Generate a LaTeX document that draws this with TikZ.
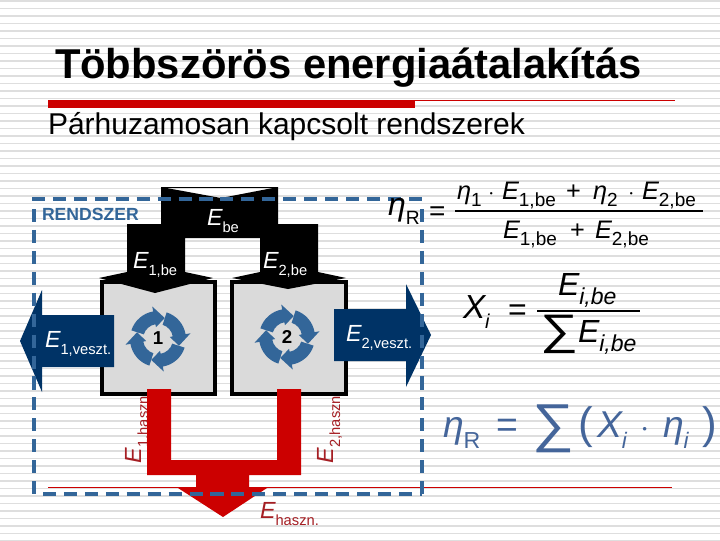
\documentclass[tikz,border=0pt]{standalone}
\usepackage{fontspec}
\usepackage{graphicx}
\setmainfont{Liberation Sans}
\usetikzlibrary{positioning}
\definecolor{stripegray}{RGB}{222,222,222}
\definecolor{boxgray}{RGB}{218,218,218}
\definecolor{sysblue}{RGB}{51,102,153}
\definecolor{lossblue}{RGB}{0,51,102}
\definecolor{usefulred}{RGB}{204,0,0}
\definecolor{labelred}{RGB}{165,30,35}
\definecolor{eqblue}{RGB}{68,101,154}
\newcommand{\symsub}[3][0.63]{{\itshape #2}\raisebox{-0.3em}{\scalebox{#1}{#3}}}
\newcommand{\fsize}[1]{\fontsize{#1}{#1}\selectfont}
\tikzset{
  plainlabel/.style={anchor=base west, inner sep=0pt, outer sep=0pt},
  convbox/.style={draw=black, line width=3pt, fill=boxgray},
  sysframe/.style={sysblue, line width=3pt, dash pattern=on 9.8pt off 5.9pt},
  whitelabel/.style={plainlabel, white, font=\fsize{17.5}},
  redlabel/.style={plainlabel, labelred, font=\fsize{17.5}},
  formula/.style={plainlabel, font=\fsize{19}},
  cycle/.pic={
    % four curved arrows going clockwise
    \foreach \a in {0,90,180,270} {
      \fill[sysblue, yscale=-1, rotate=\a] (162:15) arc[start angle=162, end angle=100, radius=15]
        -- (100:12) -- (72:22) -- (100:33) -- (100:28)
        arc[start angle=100, end angle=162, radius=28] -- cycle;
    }
  }
}
\begin{document}
\begin{tikzpicture}[x=0.75pt, y=-0.75pt]
\useasboundingbox (0,0) rectangle (720,540);
\clip (0,0) rectangle (720,540);
% Striped slide background
\fill[white] (0,0) rectangle (720,540);
\foreach \i in {0,...,72} {
  \fill[stripegray] (0,7.5*\i) rectangle (720,7.5*\i+1.7);
}
% Title and rules
\node[plainlabel, font=\bfseries\fsize{31.3}] (title) at (55,78) {Többszörös energiaátalakítás};
\fill[usefulred] (48,100) rectangle (415,108);
\draw[usefulred, line width=0.6pt] (415,100) -- (675,100);
\draw[usefulred, line width=0.6pt] (48,487) -- (672,487);
\node[plainlabel, font=\fsize{22.5}] (subtitle) at (48,134) {Párhuzamosan kapcsolt rendszerek};
% Rotated output labels sit behind the boxes
\node[redlabel, rotate=90] (e1out) at (141,463) {\symsub{E}{1,haszn.}};
\node[redlabel, rotate=90] (e2out) at (333,463) {\symsub{E}{2,haszn.}};
% Converter boxes
\node[convbox, minimum width=85pt, minimum height=84pt, inner sep=0pt] (box1) at (158.5,338) {};
\node[convbox, minimum width=85pt, minimum height=84pt, inner sep=0pt] (box2) at (289,338) {};
\pic at (158,339) {cycle};
\pic at (287,337) {cycle};
\node[font=\bfseries\fsize{14}, inner sep=0pt] (num1) at (158,338) {1};
\node[font=\bfseries\fsize{14}, inner sep=0pt] (num2) at (287,337) {2};
% Input energy split in two
\fill[black] (161,187) -- (221,198) -- (278,187) -- (278,224) -- (318,224) -- (318,272)
  -- (346,278) -- (288,289) -- (232,278) -- (260,272) -- (260,238) -- (185,238) -- (185,272)
  -- (213,278) -- (155,293) -- (99,278) -- (127,272) -- (127,224) -- (161,224) -- cycle;
\draw[black, line width=0.6pt] (161,187) -- (278,187);
% Losses
\fill[lossblue] (114,315) -- (42,315) -- (42,290) -- (20,341) -- (42,392) -- (42,367) -- (114,367) -- cycle;
\fill[lossblue] (334,309) -- (406,309) -- (406,284) -- (431,335) -- (406,387) -- (406,361) -- (334,361) -- cycle;
% Useful energy
\fill[usefulred] (147,389) -- (171,389) -- (171,460) -- (277,460) -- (277,389) -- (301,389) -- (301,475)
  -- (249,475) -- (249,488) -- (267,488) -- (223,517) -- (178,488) -- (196,488) -- (196,475) -- (147,475) -- cycle;
% System boundary
\draw[sysframe] (32,199) -- (422,199);
\draw[sysframe] (422,209) -- (422,494);
\draw[sysframe] (34,209) -- (34,494);
\draw[sysframe] (43,494) -- (422,494);
\node[plainlabel, sysblue, font=\bfseries\fsize{13.2}] (rendszer) at (42,220) {RENDSZER};
% Flow labels
\node[whitelabel] (ebe) at (207,225) {\symsub{E}{be}};
\node[whitelabel] (e1be) at (133,268) {\symsub{E}{1,be}};
\node[whitelabel] (e2be) at (263,268) {\symsub{E}{2,be}};
\node[whitelabel] (e1loss) at (45,347) {\symsub{E}{1,veszt.}};
\node[whitelabel] (e2loss) at (346,341) {\symsub{E}{2,veszt.}};
\node[redlabel] (eout) at (260,518) {\symsub{E}{haszn.}};
% Efficiency of the system
\node[formula, font=\fsize{24}] (etaR) at (388,215) {\symsub[0.6]{η}{R}};
\node[formula, font=\fsize{21}] (eq1) at (429,220) {=};
\foreach \px/\py/\txt [count=\n] in {457/199/{\symsub[0.75]{η}{1}}, 488/199/{$\cdot$}, 502/199/{\symsub[0.75]{E}{1,be}},
    566/199/{+}, 593/199/{\symsub[0.75]{η}{2}}, 628/199/{$\cdot$}, 642/199/{\symsub[0.75]{E}{2,be}},
    503/238/{\symsub[0.75]{E}{1,be}}, 570/238/{+}, 595/238/{\symsub[0.75]{E}{2,be}}} {
  \node[formula] (term\n) at (\px,\py) {\txt};
}
\draw[black, line width=0.9pt] (455,211) -- (703,211);
% Share of the input
\node[formula, font=\fsize{25}] (xi) at (463,318) {\symsub[0.6]{X}{\itshape i}};
\node[formula, font=\fsize{24}] (eq2) at (508,320) {=};
\node[formula, font=\fsize{24}] (top2) at (558,295) {\symsub[0.72]{E}{\itshape i,be}};
\draw[black, line width=0.9pt] (537,311) -- (640,311);
\node[formula, font=\fsize{32}, xscale=1.25] (sum2) at (540,344) {∑};
\node[formula, font=\fsize{24}] (bot2) at (578,342) {\symsub[0.72]{E}{\itshape i,be}};
% Result
\node[formula, eqblue, font=\fsize{28}] (etaR3) at (443,437) {\symsub[0.62]{η}{R}};
\node[formula, eqblue, font=\fsize{28}] (eq3) at (496,437) {=};
\node[formula, eqblue, font=\fsize{40}, xscale=1.1] (sum3) at (532,441) {∑};
\node[formula, eqblue, font=\fsize{33}] (lpar) at (578,438) {(};
\node[formula, eqblue, font=\fsize{28}] (xi3) at (597,437) {\symsub[0.6]{X}{\itshape i}};
\node[formula, eqblue, font=\fsize{28}] (dot3) at (640,437) {$\cdot$};
\node[formula, eqblue, font=\fsize{28}] (eta3) at (663,437) {\symsub[0.6]{η}{\itshape i}};
\node[formula, eqblue, font=\fsize{33}] (rpar) at (702,438) {)};
\end{tikzpicture}
\end{document}
